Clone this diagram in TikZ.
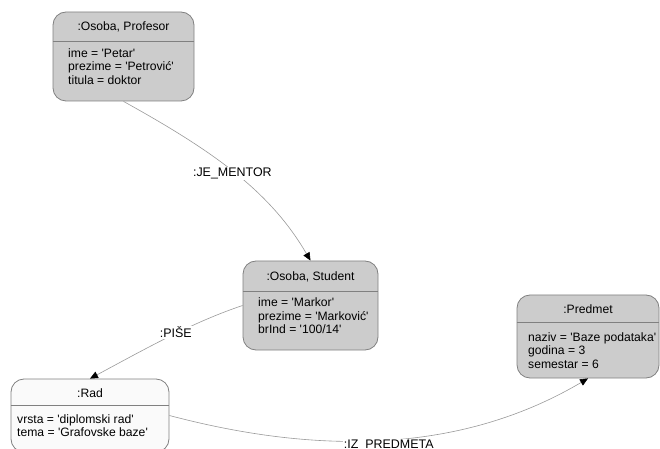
\documentclass[tikz,border=0pt]{standalone}
\usepackage{fontspec}
\setmainfont{Liberation Sans}
\usetikzlibrary{arrows.meta}
\definecolor{boxfill}{HTML}{CCCCCC}
\definecolor{boxpale}{HTML}{FAFAFA}
\definecolor{boxline}{HTML}{808080}
\definecolor{edgeline}{HTML}{9A9A9A}
\newcommand\sq{\textquotesingle}
\begin{document}
\begin{tikzpicture}[x=1bp,y=-1bp,
  objbox/.style={draw=boxline, line width=0.8bp, fill=boxfill, rounded corners=13bp, inner sep=0pt},
  divider/.style={draw=boxline, line width=0.8bp},
  title/.style={font=\fontsize{12.2}{13.7}\selectfont, inner sep=0pt},
  attrs/.style={font=\fontsize{12.2}{13.7}\selectfont, align=left, anchor=west, inner sep=0pt},
  rel/.style={draw=edgeline, line width=0.6bp, -{Triangle[length=8bp,width=7bp,color=black]}},
  rellabel/.style={font=\fontsize{12.5}{14}\selectfont, fill=white, inner sep=1bp}
]
\useasboundingbox (0,0) rectangle (660,449);

% :Osoba, Profesor
\node[objbox, minimum width=141bp, minimum height=89bp] (prof) at (123.5,56.5) {};
\draw[divider] ([yshift=-30bp]prof.north west) -- ([yshift=-30bp]prof.north east);
\node[title] (profT) at (123.5,27) {:Osoba, Profesor};
\node[attrs] (profA) at (68,66.5) {ime = \sq Petar\sq\\prezime = \sq Petrović\sq\\titula = doktor};

% :Osoba, Student
\node[objbox, minimum width=135bp, minimum height=89bp] (student) at (310.5,305.5) {};
\draw[divider] ([yshift=-31bp]student.north west) -- ([yshift=-31bp]student.north east);
\node[title] (studT) at (310.5,277) {:Osoba, Student};
\node[attrs] (studA) at (258,316) {ime = \sq Markor\sq\\prezime = \sq Marković\sq\\brInd = \sq 100/14\sq};

% :Predmet
\node[objbox, minimum width=142bp, minimum height=83bp] (predmet) at (588,336.5) {};
\draw[divider] ([yshift=-28bp]predmet.north west) -- ([yshift=-28bp]predmet.north east);
\node[title] (predT) at (588,309.5) {:Predmet};
\node[attrs] (predA) at (528,350.5) {naziv = \sq Baze podataka\sq\\godina = 3\\semestar = 6};

% :Rad
\node[objbox, fill=boxpale, minimum width=158bp, minimum height=73bp] (rad) at (90,415.5) {};
\draw[divider] ([yshift=-27bp]rad.north west) -- ([yshift=-27bp]rad.north east);
\node[title] (radT) at (90,393) {:Rad};
\node[attrs] (radA) at (17,425.5) {vrsta = \sq diplomski rad\sq\\tema = \sq Grafovske baze\sq};

% relationships
\draw[rel] (prof.south) .. controls (213,151) and (270,191) ..
  node[rellabel, pos=0.5, xshift=-3bp] (lblMentor) {:JE\_MENTOR} (student.north);
\draw[rel] (student.west) .. controls (193,322) and (145,349) ..
  node[rellabel, pos=0.45, yshift=1bp] (lblPise) {:PIŠE} (rad.north);
\draw[rel] (rad.east) .. controls (300,450) and (450,460) ..
  node[rellabel, pos=0.53, yshift=-6bp] (lblPredmet) {:IZ\_PREDMETA} (predmet.south);
\end{tikzpicture}
\end{document}
